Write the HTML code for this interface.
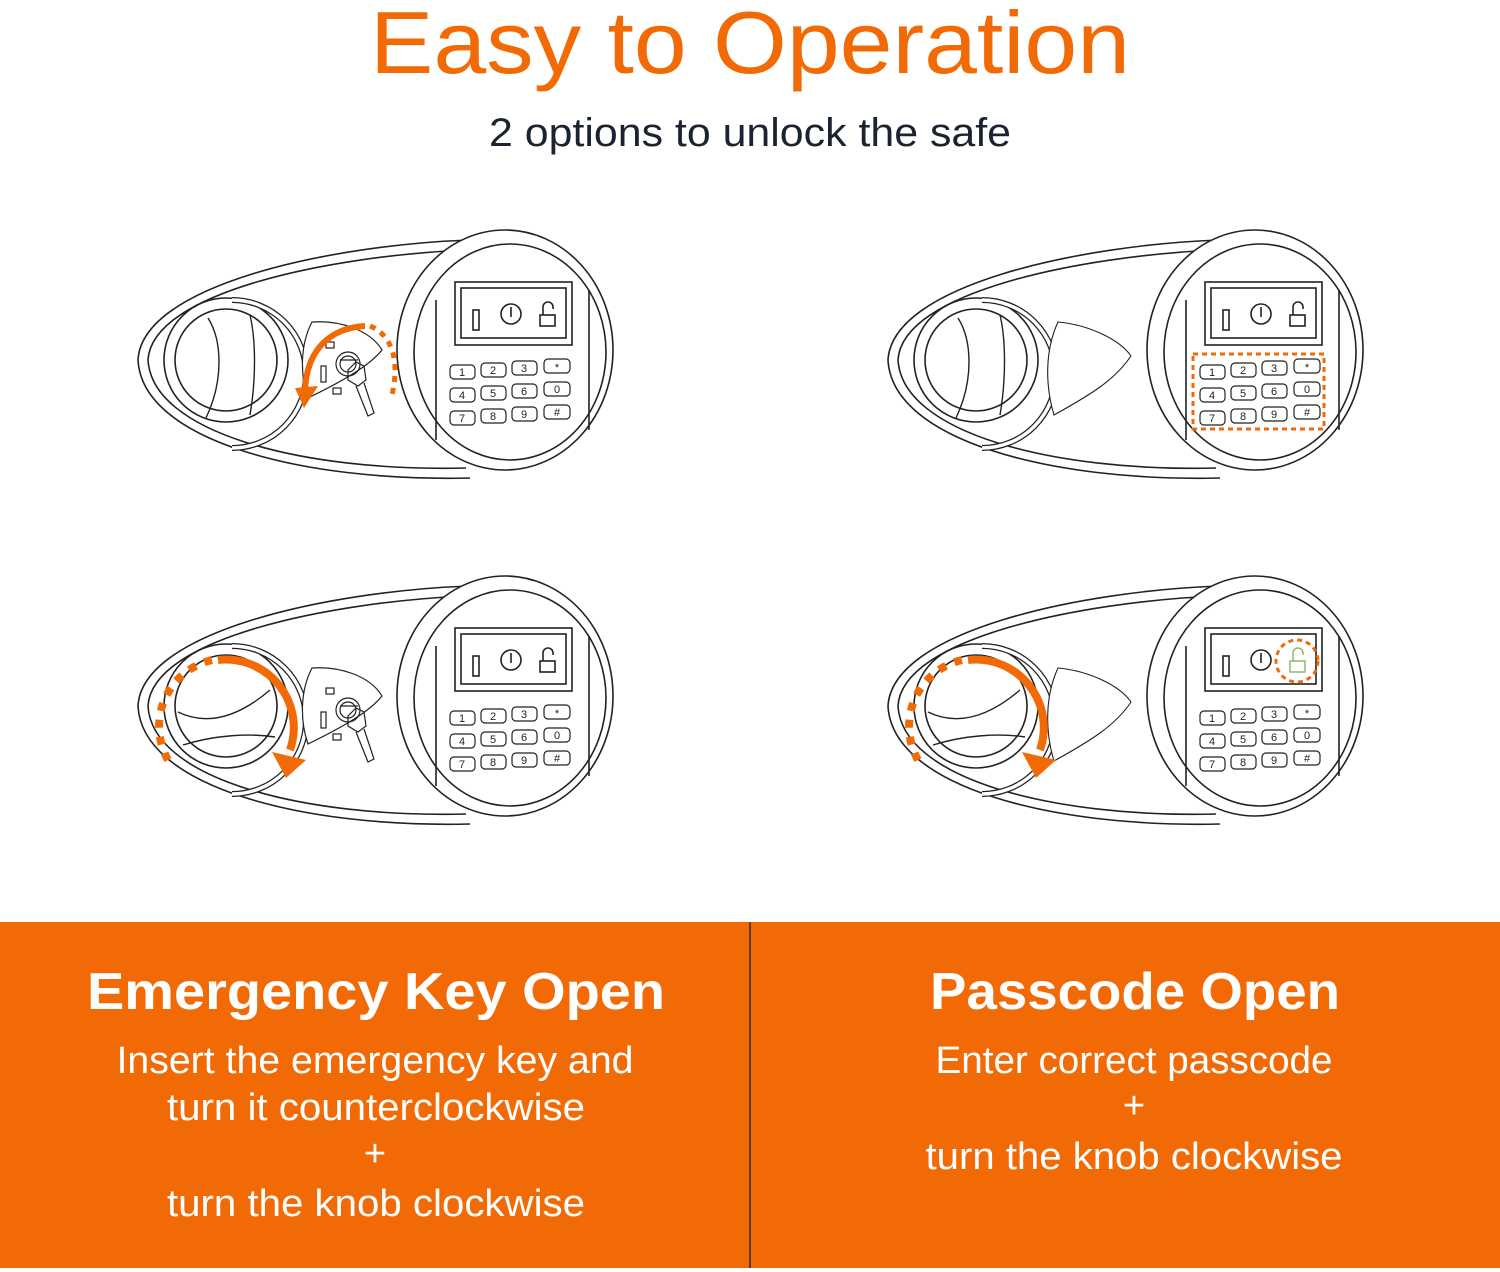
<!DOCTYPE html>
<html><head><meta charset="utf-8"><style>
html,body{margin:0;padding:0;background:#fff;}
svg{display:block;}
text{font-family:"Liberation Sans",sans-serif;}
</style></head><body>
<svg width="1500" height="1272" viewBox="0 0 1500 1272" xmlns="http://www.w3.org/2000/svg">
<defs>
<g id="lock" fill="none" stroke="#222" stroke-width="1.6">
  <path d="M470,240 C330,245 142,285 138,360 C142,440 300,482 470,478" fill="#fff"/>
  <path d="M466,250 C330,256 152,292 148,360 C152,432 300,472 466,468"/>
  <ellipse cx="505" cy="350" rx="108" ry="120" fill="#fff"/>
  <ellipse cx="510" cy="352" rx="96" ry="108"/>
  <line x1="436" y1="300" x2="436" y2="440"/>
  <line x1="589" y1="290" x2="589" y2="430"/>
  <rect x="455" y="282" width="117" height="63"/>
  <rect x="461" y="288" width="105" height="50"/>
  <rect x="473" y="310" width="6" height="20"/>
  <circle cx="511" cy="314" r="10"/>
  <line x1="511" y1="307" x2="511" y2="317"/>
  <g stroke-width="1.2">
    <rect x="450" y="365" width="25" height="14" rx="4"/><rect x="481" y="363" width="25" height="14" rx="4"/><rect x="512" y="361" width="25" height="14" rx="4"/><rect x="544" y="359" width="26" height="14" rx="4"/>
    <rect x="450" y="388" width="25" height="14" rx="4"/><rect x="481" y="386" width="25" height="14" rx="4"/><rect x="512" y="384" width="25" height="14" rx="4"/><rect x="544" y="382" width="26" height="14" rx="4"/>
    <rect x="450" y="411" width="25" height="14" rx="4"/><rect x="481" y="409" width="25" height="14" rx="4"/><rect x="512" y="407" width="25" height="14" rx="4"/><rect x="544" y="405" width="26" height="14" rx="4"/>
  </g>
  <circle cx="226" cy="360" r="62" fill="#fff"/>
  <circle cx="226" cy="360" r="51"/>
  <path d="M232,300 A72,72 0 0 1 232,448" stroke-width="6" stroke="#222"/>
  <path d="M232,300 A72,72 0 0 1 232,448" stroke-width="3.5" stroke="#fff"/>
</g>
<g id="pad" fill="none" stroke="#222" stroke-width="1.6">
  <rect x="540" y="315" width="15" height="11"/>
  <path d="M543,315 v-8 a5,5 0 0 1 10,0 v2"/>
</g>
<g id="knobV" fill="none" stroke="#222" stroke-width="1.4">
  <path d="M208,318 C222,340 224,380 206,418"/>
  <path d="M250,315 C256,340 256,380 250,415"/>
</g>
<g id="knobH" fill="none" stroke="#222" stroke-width="1.4">
  <path d="M178,712 C205,725 235,720 270,690"/>
  <path d="M183,745 C215,735 250,733 275,737"/>
</g>
<g id="keyplate" fill="none" stroke="#222" stroke-width="1.2">
  <path d="M312,322 C340,320 370,330 382,350 C370,365 345,380 308,398 C300,375 300,345 312,322 Z" fill="#fff"/>
  <rect x="326" y="342" width="8" height="6"/><rect x="321" y="366" width="5" height="16"/><rect x="333" y="388" width="8" height="6"/>
  <circle cx="348" cy="364" r="12"/><circle cx="348" cy="364" r="8"/>
  <path d="M340,360 h18 M348,370 l8,-8 l8,4 l2,14 l-8,6 l-10,-6 z M356,386 l12,30 l6,-3 l-10,-30"/>
</g>
<g id="plate2" fill="none" stroke="#222" stroke-width="1.1">
  <path d="M1058,322 C1090,325 1120,340 1131,356 C1115,380 1090,395 1054,415 C1045,385 1045,350 1058,322 Z" fill="#fff"/>
</g>
</defs>

<text x="750" y="73" text-anchor="middle" font-size="88" fill="#f26a06" textLength="760" lengthAdjust="spacingAndGlyphs">Easy to Operation</text>
<text x="750" y="146" text-anchor="middle" font-size="40" fill="#1b2330" textLength="522" lengthAdjust="spacingAndGlyphs">2 options to unlock the safe</text>

<!-- Panel TL -->
<use href="#lock"/><use href="#pad"/>
<use href="#knobV"/>
<use href="#keyplate"/>
<path d="M365,326 C330,328 306,350 305,392" fill="none" stroke="#f26a06" stroke-width="6"/>
<path d="M295,388 L318,386 L304,408 Z" fill="#f26a06"/>
<path d="M370,326 C392,335 400,360 392,395" fill="none" stroke="#f26a06" stroke-width="5" stroke-dasharray="6,6"/>

<!-- Panel TR -->
<g transform="translate(750,0)"><use href="#lock"/><use href="#pad"/><use href="#knobV"/></g>
<use href="#plate2"/>
<rect x="1193" y="354" width="131" height="75" fill="none" stroke="#f26a06" stroke-width="3" stroke-dasharray="5,4"/>

<!-- Panel BL -->
<g transform="translate(0,346)"><use href="#lock"/><use href="#pad"/><use href="#keyplate"/></g>
<use href="#knobH"/>
<path d="M218,660 A68,68 0 0 1 290,750" fill="none" stroke="#f26a06" stroke-width="8"/>
<path d="M272,752 L306,760 L286,778 Z" fill="#f26a06"/>
<path d="M212,660 A68,68 0 0 0 168,760" fill="none" stroke="#f26a06" stroke-width="8" stroke-dasharray="8,9"/>

<!-- Panel BR -->
<g transform="translate(750,346)"><use href="#lock"/></g>
<g transform="translate(750,0)"><use href="#knobH"/></g>
<g transform="translate(0,346)"><use href="#plate2"/></g>
<path d="M968,660 A68,68 0 0 1 1040,750" fill="none" stroke="#f26a06" stroke-width="8"/>
<path d="M1022,752 L1056,760 L1036,778 Z" fill="#f26a06"/>
<path d="M962,660 A68,68 0 0 0 918,760" fill="none" stroke="#f26a06" stroke-width="8" stroke-dasharray="8,9"/>
<g fill="none" stroke="#8db870" stroke-width="1.5">
  <rect x="1290" y="661" width="15" height="11"/>
  <path d="M1293,661 v-8 a5,5 0 0 1 10,0 v2"/>
</g>
<circle cx="1297" cy="661" r="21" fill="none" stroke="#f26a06" stroke-width="3" stroke-dasharray="5,4"/>

<g font-size="11" fill="#222" text-anchor="middle">
<text x="462" y="376">1</text><text x="493" y="374">2</text><text x="524" y="372">3</text><text x="557" y="371">*</text>
<text x="462" y="399">4</text><text x="493" y="397">5</text><text x="524" y="395">6</text><text x="557" y="393">0</text>
<text x="462" y="422">7</text><text x="493" y="420">8</text><text x="524" y="418">9</text><text x="557" y="416">#</text>
<text x="1212" y="376">1</text><text x="1243" y="374">2</text><text x="1274" y="372">3</text><text x="1307" y="371">*</text>
<text x="1212" y="399">4</text><text x="1243" y="397">5</text><text x="1274" y="395">6</text><text x="1307" y="393">0</text>
<text x="1212" y="422">7</text><text x="1243" y="420">8</text><text x="1274" y="418">9</text><text x="1307" y="416">#</text>
<text x="462" y="722">1</text><text x="493" y="720">2</text><text x="524" y="718">3</text><text x="557" y="717">*</text>
<text x="462" y="745">4</text><text x="493" y="743">5</text><text x="524" y="741">6</text><text x="557" y="739">0</text>
<text x="462" y="768">7</text><text x="493" y="766">8</text><text x="524" y="764">9</text><text x="557" y="762">#</text>
<text x="1212" y="722">1</text><text x="1243" y="720">2</text><text x="1274" y="718">3</text><text x="1307" y="717">*</text>
<text x="1212" y="745">4</text><text x="1243" y="743">5</text><text x="1274" y="741">6</text><text x="1307" y="739">0</text>
<text x="1212" y="768">7</text><text x="1243" y="766">8</text><text x="1274" y="764">9</text><text x="1307" y="762">#</text>
</g>

<rect x="0" y="922" width="1500" height="346" fill="#f26a06"/>
<line x1="750" y1="922" x2="750" y2="1268" stroke="#5a3a20" stroke-width="2"/>
<g fill="#fff" text-anchor="middle">
<text x="376" y="1009" font-size="52" font-weight="bold" textLength="578" lengthAdjust="spacingAndGlyphs">Emergency Key Open</text>
<text x="375" y="1073" font-size="38" textLength="517" lengthAdjust="spacingAndGlyphs">Insert the emergency key and</text>
<text x="376" y="1120" font-size="38" textLength="418" lengthAdjust="spacingAndGlyphs">turn it counterclockwise</text>
<text x="375" y="1166" font-size="38">+</text>
<text x="376" y="1216" font-size="38" textLength="418" lengthAdjust="spacingAndGlyphs">turn the knob clockwise</text>
<text x="1135" y="1009" font-size="52" font-weight="bold" textLength="410" lengthAdjust="spacingAndGlyphs">Passcode Open</text>
<text x="1134" y="1073" font-size="38" textLength="397" lengthAdjust="spacingAndGlyphs">Enter correct passcode</text>
<text x="1134" y="1118" font-size="38">+</text>
<text x="1134" y="1169" font-size="38" textLength="417" lengthAdjust="spacingAndGlyphs">turn the knob clockwise</text>
</g>
</svg>
</body></html>
